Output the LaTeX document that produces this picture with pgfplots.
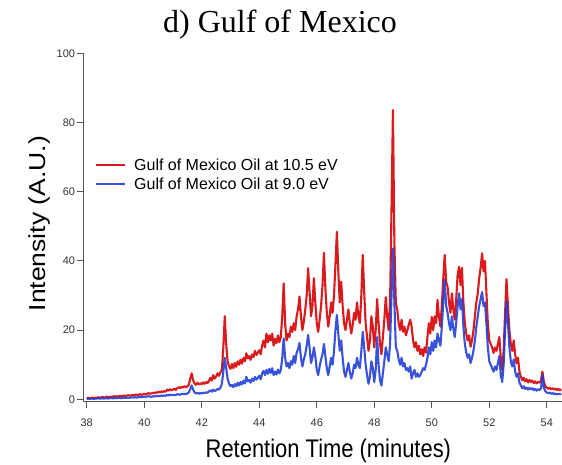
\documentclass[border=0pt]{standalone}
\usepackage{graphicx}
\usepackage{fontspec}
\setmainfont{Liberation Sans}
\newfontfamily\timesfont{Liberation Serif}
\usepackage{pgfplots}
\usepackage{pgfplotstable}
\pgfplotsset{compat=1.18}

\definecolor{oilred}{RGB}{218,26,28}
\definecolor{oilblue}{RGB}{28,58,215}
\definecolor{axisgray}{RGB}{85,85,85}
\definecolor{ticktext}{RGB}{50,50,50}

% retention time, intensity at 10.5 eV, intensity at 9.0 eV
\pgfplotstableread{
x r b
38.00 0.3 0.1
38.05 0.4 0.2
38.10 0.3 0.1
38.15 0.4 0.2
38.20 0.5 0.2
38.25 0.4 0.1
38.30 0.5 0.2
38.35 0.4 0.2
38.40 0.6 0.3
38.45 0.5 0.2
38.50 0.5 0.2
38.55 0.7 0.3
38.60 0.5 0.2
38.65 0.6 0.3
38.70 0.8 0.3
38.75 0.6 0.2
38.80 0.7 0.3
38.85 0.8 0.4
38.90 0.7 0.3
38.95 0.9 0.3
39.00 0.8 0.4
39.05 0.9 0.3
39.10 0.8 0.4
39.15 1.0 0.4
39.20 0.9 0.3
39.25 1.0 0.4
39.30 1.1 0.5
39.35 0.9 0.4
39.40 1.1 0.5
39.45 1.2 0.4
39.50 1.0 0.5
39.55 1.2 0.5
39.60 1.3 0.6
39.65 1.1 0.5
39.70 1.4 0.6
39.75 1.2 0.5
39.80 1.3 0.6
39.85 1.5 0.7
39.90 1.3 0.6
39.95 1.4 0.7
40.00 1.6 0.8
40.05 1.4 0.7
40.10 1.6 0.8
40.15 1.8 0.9
40.20 1.6 0.8
40.25 1.7 0.7
40.30 1.9 0.9
40.35 1.8 0.8
40.40 2.0 1.0
40.45 1.9 0.9
40.50 2.2 1.0
40.55 2.0 0.9
40.60 2.3 1.1
40.65 2.1 1.0
40.70 2.4 1.1
40.75 2.2 1.0
40.80 2.8 1.3
40.85 2.5 1.1
40.90 2.9 1.4
40.95 2.6 1.2
41.00 2.8 1.2
41.05 3.1 1.3
41.10 2.7 1.2
41.15 3.3 1.5
41.20 3.5 1.4
41.25 3.2 1.3
41.30 3.6 1.6
41.35 3.4 1.5
41.40 3.8 1.6
41.45 3.5 1.5
41.50 3.7 1.7
41.55 4.2 2.0
41.60 6.0 3.0
41.65 7.5 4.0
41.70 5.5 2.8
41.75 4.6 2.0
41.80 4.2 1.7
41.85 4.8 1.9
41.90 4.3 1.6
41.95 4.6 1.8
42.00 4.4 1.7
42.05 4.9 1.9
42.10 4.5 1.8
42.15 5.0 2.0
42.20 4.7 1.9
42.25 5.3 2.3
42.30 6.2 2.6
42.35 5.4 2.2
42.40 7.0 2.8
42.45 6.0 2.4
42.50 6.6 2.6
42.55 7.5 3.0
42.60 6.8 2.8
42.65 7.8 3.4
42.70 8.5 4.5
42.75 15.0 8.0
42.80 24.0 12.0
42.85 16.0 9.0
42.90 11.0 6.0
42.95 9.5 4.5
43.00 8.8 3.8
43.05 10.2 4.2
43.10 9.0 3.5
43.15 10.5 4.4
43.20 9.4 3.8
43.25 11.0 4.8
43.30 10.0 4.0
43.35 11.5 5.0
43.40 10.3 4.3
43.45 12.0 5.4
43.50 11.0 4.6
43.55 13.3 6.5
43.60 11.8 5.2
43.65 12.5 5.6
43.70 11.4 4.8
43.75 13.0 6.0
43.80 12.2 5.3
43.85 14.0 6.5
43.90 12.8 5.7
43.95 13.5 6.2
44.00 14.2 6.8
44.05 13.0 5.8
44.10 15.5 7.5
44.15 17.0 8.2
44.20 15.0 7.0
44.25 19.0 8.5
44.30 16.5 7.4
44.35 18.5 8.8
44.40 17.0 7.6
44.45 19.0 9.0
44.50 15.5 7.0
44.55 17.5 8.0
44.60 16.2 7.2
44.65 18.5 8.6
44.70 16.5 7.5
44.75 18.0 8.5
44.80 24.0 12.0
44.85 33.5 17.6
44.90 22.0 12.0
44.95 17.0 9.5
45.00 19.0 10.5
45.05 18.0 9.0
45.10 21.0 11.0
45.15 19.5 10.0
45.20 22.0 12.5
45.25 20.0 10.5
45.30 24.0 13.5
45.35 26.0 14.5
45.40 29.7 16.3
45.45 24.0 12.0
45.50 20.0 9.5
45.55 22.5 11.5
45.60 26.0 13.0
45.65 30.0 15.5
45.70 37.9 18.6
45.75 31.0 15.0
45.80 24.0 10.5
45.85 27.0 12.0
45.90 35.0 15.0
45.95 28.0 12.5
46.00 22.0 8.5
46.05 19.5 7.0
46.10 23.0 9.5
46.15 27.0 11.5
46.20 33.0 13.0
46.25 42.3 16.0
46.30 32.0 12.5
46.35 25.0 9.0
46.40 21.0 7.0
46.45 24.0 9.5
46.50 28.0 12.0
46.55 25.0 10.0
46.60 30.0 14.0
46.65 39.0 20.0
46.70 48.4 24.4
46.75 37.0 19.0
46.80 28.0 14.0
46.85 34.0 17.0
46.90 27.0 12.0
46.95 22.0 8.0
47.00 20.0 6.5
47.05 23.0 8.5
47.10 26.0 10.5
47.15 22.0 8.0
47.20 19.0 6.0
47.25 21.5 7.5
47.30 25.0 10.0
47.35 23.0 9.0
47.40 28.0 12.0
47.45 24.0 10.0
47.50 22.0 9.0
47.55 30.0 14.0
47.60 41.7 19.5
47.65 31.0 15.0
47.70 22.0 10.0
47.75 18.0 7.0
47.80 14.0 4.5
47.85 17.0 6.5
47.90 24.0 11.0
47.95 21.0 9.0
48.00 15.0 5.0
48.05 20.0 8.5
48.10 29.0 18.0
48.15 22.0 10.0
48.20 16.0 5.5
48.25 13.0 4.0
48.30 18.0 7.5
48.35 23.0 11.0
48.40 29.5 15.0
48.45 24.0 13.0
48.50 20.0 11.0
48.55 28.0 16.0
48.60 55.0 30.0
48.65 83.6 43.6
48.70 45.0 28.0
48.75 28.0 15.0
48.80 25.8 14.0
48.85 22.0 11.5
48.90 20.0 10.0
48.95 23.0 12.0
49.00 19.5 9.5
49.05 21.0 10.5
49.10 18.5 8.5
49.15 20.0 9.0
49.20 21.5 8.0
49.25 23.0 9.5
49.30 21.0 6.0
49.35 17.0 7.5
49.40 15.0 8.5
49.45 16.5 6.5
49.50 14.0 7.5
49.55 15.5 6.5
49.60 13.0 7.0
49.65 14.5 8.0
49.70 12.5 9.0
49.75 15.0 8.5
49.80 13.5 10.0
49.85 18.0 12.0
49.90 22.0 15.0
49.95 19.0 13.0
50.00 23.8 16.5
50.05 20.0 14.0
50.10 24.0 17.0
50.15 22.0 15.0
50.20 28.7 19.0
50.25 24.0 17.0
50.30 21.0 15.5
50.35 27.0 21.0
50.40 35.0 28.0
50.45 41.7 34.5
50.50 34.0 27.0
50.55 32.5 25.0
50.60 28.0 22.0
50.65 25.0 20.0
50.70 30.6 24.0
50.75 26.0 20.5
50.80 23.0 18.0
50.85 29.0 22.0
50.90 36.0 27.0
50.95 38.3 30.7
51.00 33.0 26.0
51.05 38.0 29.0
51.10 28.0 21.0
51.15 22.0 16.0
51.20 19.0 13.5
51.25 17.0 12.0
51.30 18.5 13.0
51.35 15.2 10.5
51.40 17.0 12.0
51.45 20.0 14.0
51.50 24.0 17.0
51.55 28.0 21.0
51.60 30.6 24.0
51.65 35.0 27.0
51.70 38.0 29.0
51.75 42.2 31.0
51.80 37.0 27.0
51.85 40.0 28.0
51.90 31.0 22.0
51.95 22.0 15.0
52.00 17.0 11.0
52.05 16.0 10.0
52.10 15.0 9.0
52.15 13.4 8.0
52.20 15.0 9.5
52.25 14.0 8.5
52.30 16.0 10.5
52.35 18.0 12.5
52.40 12.0 7.0
52.45 8.5 5.0
52.50 14.0 10.0
52.55 25.0 20.0
52.60 34.7 28.2
52.65 27.0 22.0
52.70 20.0 15.0
52.75 16.0 11.0
52.80 14.0 9.5
52.85 17.0 11.5
52.90 13.0 8.0
52.95 10.4 6.5
53.00 12.0 7.5
53.05 8.0 4.8
53.10 6.5 4.0
53.15 5.5 3.2
53.20 6.2 3.8
53.25 5.2 3.0
53.30 5.8 3.4
53.35 4.9 2.8
53.40 5.6 3.3
53.45 5.0 2.9
53.50 5.4 3.2
53.55 4.7 2.6
53.60 5.2 3.0
53.65 4.6 2.5
53.70 5.0 2.9
53.75 4.8 2.7
53.80 5.5 3.2
53.85 8.0 7.0
53.90 5.0 3.4
53.95 3.8 2.3
54.00 3.4 2.0
54.05 3.0 1.8
54.10 3.3 1.9
54.15 2.9 1.6
54.20 3.2 1.8
54.25 2.8 1.5
54.30 3.1 1.7
54.35 2.7 1.4
54.40 3.0 1.6
54.45 2.6 1.5
54.50 2.9 1.6
}\gomtable

\begin{document}
\begin{tikzpicture}
\useasboundingbox (-83.3pt,-62.3pt) rectangle (478.7pt,401.7pt);
\begin{axis}[
    scale only axis,
    width=478.7pt, height=348.4pt,
    xmin=37.88, xmax=54.53,
    ymin=-0.69, ymax=100,
    axis x line*=bottom,
    axis y line*=left,
    axis line style={draw=axisgray, line width=0.9pt},
    tick align=outside,
    major tick length=6pt,
    tick style={draw=axisgray, line width=0.9pt},
    xtick={38,40,...,54},
    ytick={0,20,...,100},
    /pgf/number format/assume math mode=true,
    tick label style={font=\fontsize{11}{13}\selectfont, text=ticktext},
    xticklabel style={yshift=-8pt},
    yticklabel style={inner sep=2pt},
    title={\timesfont\fontsize{32}{36}\selectfont d) Gulf of Mexico},
    title style={at={(axis description cs:0.411,1.042)}, anchor=base, inner sep=0pt},
    xlabel={\scalebox{0.86}[1]{\fontsize{25.5}{30}\selectfont Retention Time (minutes)}},
    xlabel style={at={(axis description cs:0.512,-0.1607)}, anchor=base, inner sep=0pt},
    ylabel={\scalebox{1}[0.87]{\fontsize{26.5}{30}\selectfont Intensity (A.U.)}},
    ylabel style={at={(axis description cs:-0.08,0.511)}, anchor=base, inner sep=0pt},
    legend style={draw=none, fill=none, at={(axis description cs:0.0244,0.652)},
        anchor=west, inner sep=0pt, row sep=6pt, column sep=8pt,
        nodes={inner sep=0pt},
        font=\fontsize{16}{19}\selectfont},
    legend cell align=left,
    legend image code/.code={\draw[#1, line width=2pt] (0pt,0pt) -- (29pt,0pt);},
    every axis plot/.append style={line join=round, line width=2.1pt},
]
\addplot[color=oilred] table[x=x, y=r] {\gomtable};
\addlegendentry{Gulf of Mexico Oil at 10.5 eV}
\addplot[color=oilblue, draw opacity=0.88] table[x=x, y=b] {\gomtable};
\addlegendentry{Gulf of Mexico Oil at 9.0 eV}
\end{axis}
\end{tikzpicture}
\end{document}
